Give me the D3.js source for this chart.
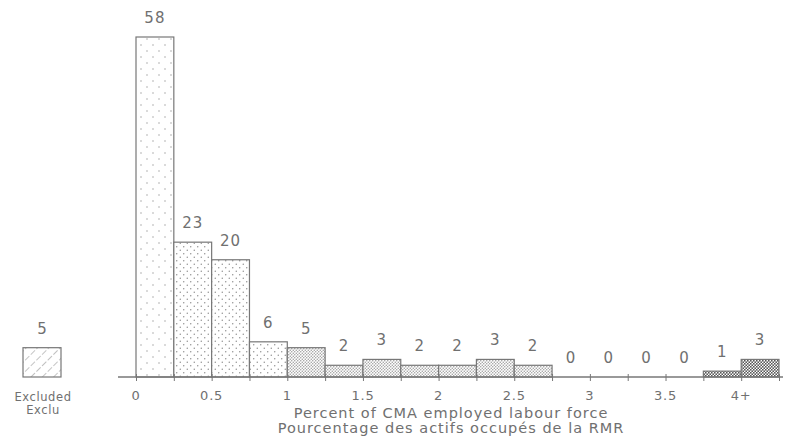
<!DOCTYPE html>
<html><head><meta charset="utf-8">
<script src="https://cdn.jsdelivr.net/npm/d3@7"></script>
<style>body{margin:0;background:#fff}svg{display:block}text{font-family:"DejaVu Sans",sans-serif;fill:#707070}</style>
</head><body><div id="c"></div>
<script>
const binStarts = [0,0.25,0.5,0.75,1,1.25,1.5,1.75,2,2.25,2.5,2.75,3,3.25,3.5,3.75,4];
const counts = [58,23,20,6,5,2,3,2,2,3,2,0,0,0,0,1,3];
const patterns = ["p1","p2","p2","p2","p3","p3","p3","p3","p3","p3","p3","p3","p3","p3","p3","p4","p4"];
const tickValues = [0,0.5,1,1.5,2,2.5,3,3.5,4];
const tickLabels = ["0","0.5","1","1.5","2","2.5","3","3.5","4+"];
const excludedCount = 5;
const excludedLabels = ["Excluded","Exclu"];
const axisTitle = ["Percent of CMA employed labour force","Pourcentage des actifs occupés de la RMR"];

const W=788,H=446;
const svg=d3.select("#c").append("svg").attr("width",W).attr("height",H);
const defs=svg.append("defs");
function dotPat(id,size,r,col,stagger){
  const p=defs.append("pattern").attr("id",id).attr("patternUnits","userSpaceOnUse").attr("width",size).attr("height",size);
  p.append("rect").attr("width",size).attr("height",size).attr("fill","#fff");
  p.append("circle").attr("cx",size/4).attr("cy",size/4).attr("r",r).attr("fill",col);
  if(stagger) p.append("circle").attr("cx",size*3/4).attr("cy",size*3/4).attr("r",r).attr("fill",col);
}
dotPat("p1",12,0.7,"#999",true);
dotPat("p2",7,0.7,"#888",true);
dotPat("p3",3,0.75,"#999",true);
dotPat("p4",3,0.9,"#555",true);
const h=defs.append("pattern").attr("id","hatch").attr("patternUnits","userSpaceOnUse").attr("width",8).attr("height",8).attr("patternTransform","rotate(45)");
h.append("rect").attr("width",8).attr("height",8).attr("fill","#fff");
h.append("line").attr("x1",0).attr("y1",0).attr("x2",0).attr("y2",8).attr("stroke","#888").attr("stroke-width",1).attr("stroke-dasharray","5,2");

const x=d3.scaleLinear().domain([0,4.25]).range([136,779]);
const y=d3.scaleLinear().domain([0,58]).range([377,37]);

const g=svg.append("g");
g.selectAll("rect.bar").data(counts).enter().append("rect").attr("class","bar")
 .attr("x",(d,i)=>x(binStarts[i])).attr("width",(d,i)=>x(binStarts[i]+0.25)-x(binStarts[i]))
 .attr("y",d=>y(d)).attr("height",d=>y(0)-y(d))
 .attr("fill",(d,i)=>`url(#${patterns[i]})`).attr("stroke",(d)=>d>0?"#777":"none").attr("stroke-width",1.2);
g.selectAll("text.val").data(counts).enter().append("text").attr("class","val")
 .attr("x",(d,i)=>x(binStarts[i]+0.125)).attr("y",d=>y(d)-14)
 .attr("text-anchor","middle").attr("font-size",15).attr("letter-spacing",1).text(d=>d);

// axis
const axis=d3.axisBottom(x).tickValues(d3.range(0,4.5,0.25)).tickSize(4).tickFormat("");
const ag=svg.append("g").attr("transform",`translate(0,${y(0)})`).call(axis);
ag.select(".domain").remove();
ag.selectAll(".tick line").attr("stroke","#777").attr("y1",-3).attr("y2",4);
svg.append("line").attr("x1",118).attr("x2",783).attr("y1",y(0)).attr("y2",y(0)).attr("stroke","#777").attr("stroke-width",1.3);
svg.selectAll("text.tl").data(tickValues).enter().append("text").attr("class","tl")
 .attr("x",d=>x(d)).attr("y",400).attr("text-anchor","middle").attr("font-size",13).attr("letter-spacing",0.8).text((d,i)=>tickLabels[i]);
svg.selectAll("text.at").data(axisTitle).enter().append("text").attr("class","at")
 .attr("x",451).attr("y",(d,i)=>418+i*15).attr("text-anchor","middle").attr("font-size",14.5).attr("letter-spacing",1).text(d=>d);

// excluded
svg.append("rect").attr("x",23).attr("y",y(excludedCount)).attr("width",38).attr("height",y(0)-y(excludedCount))
 .attr("fill","url(#hatch)").attr("stroke","#777").attr("stroke-width",1.2);
svg.append("text").attr("x",42).attr("y",y(excludedCount)-14).attr("text-anchor","middle").attr("font-size",15).text(excludedCount);
svg.selectAll("text.ex").data(excludedLabels).enter().append("text").attr("class","ex")
 .attr("x",43).attr("y",(d,i)=>401+i*13).attr("text-anchor","middle").attr("font-size",11.5).attr("letter-spacing",0.6).text(d=>d);
</script></body></html>
